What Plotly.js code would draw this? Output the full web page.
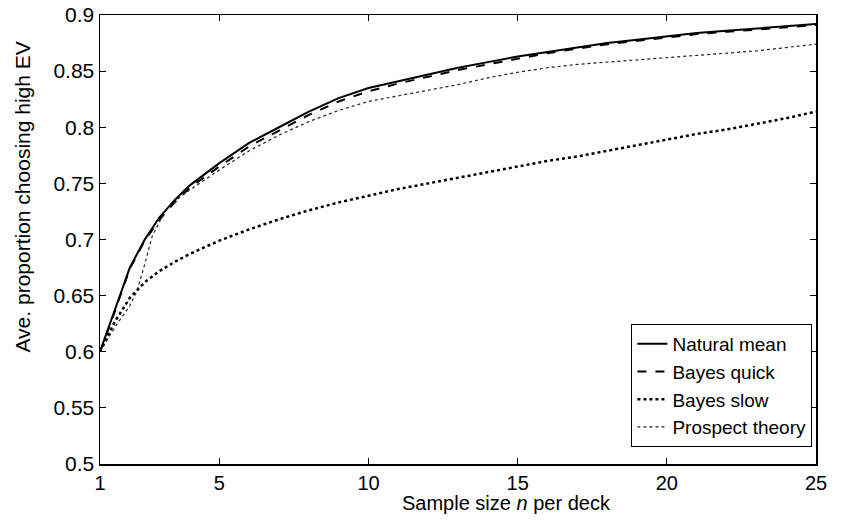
<!DOCTYPE html>
<html>
<head>
<meta charset="utf-8">
<script src="https://cdn.plot.ly/plotly-3.0.1.min.js"></script>
<style>html,body{margin:0;padding:0;background:#fff;}#chart{width:842px;height:520px;}</style>
</head>
<body>
<div id="chart"></div>
<script>
// Sample size n per deck
const nFine = [1, 1.5, 2, 2.25, 2.5, 2.75, 3, 3.25, 3.5, 4, 5, 6, 7, 8, 9, 10, 11, 12, 13, 14, 15, 16, 17, 18, 19, 20, 21, 22, 23, 24, 25];
const nInt = [1, 1.5, 2, 2.5, 3, 3.5, 4, 5, 6, 7, 8, 9, 10, 11, 12, 13, 14, 15, 16, 17, 18, 19, 20, 21, 22, 23, 24, 25];

const naturalMean = [0.600, 0.637, 0.675, 0.700, 0.720, 0.735, 0.748, 0.768, 0.786, 0.800, 0.814, 0.826, 0.835, 0.841, 0.847, 0.853, 0.858, 0.863, 0.867, 0.871, 0.875, 0.878, 0.881, 0.884, 0.886, 0.888, 0.890, 0.892];
const bayesQuick  = [0.600, 0.636, 0.674, 0.699, 0.718, 0.733, 0.746, 0.765, 0.783, 0.797, 0.811, 0.823, 0.832, 0.839, 0.845, 0.851, 0.856, 0.861, 0.866, 0.870, 0.874, 0.877, 0.880, 0.883, 0.885, 0.887, 0.889, 0.891];
const bayesSlow   = [0.600, 0.627, 0.648, 0.662, 0.672, 0.680, 0.687, 0.699, 0.709, 0.718, 0.726, 0.733, 0.739, 0.745, 0.750, 0.755, 0.760, 0.765, 0.770, 0.774, 0.779, 0.784, 0.789, 0.794, 0.798, 0.803, 0.808, 0.814];
const prospect    = [0.600, 0.622, 0.641, 0.655, 0.678, 0.703, 0.716, 0.728, 0.734, 0.744, 0.762, 0.779, 0.793, 0.805, 0.815, 0.823, 0.828, 0.833, 0.838, 0.844, 0.849, 0.853, 0.856, 0.858, 0.860, 0.862, 0.864, 0.866, 0.868, 0.871, 0.874];

const xTicks = [1, 5, 10, 15, 20, 25];
const yTicks = [0.5, 0.55, 0.6, 0.65, 0.7, 0.75, 0.8, 0.85, 0.9];
const yTickText = ["0.5", "0.55", "0.6", "0.65", "0.7", "0.75", "0.8", "0.85", "0.9"];
const seriesNames = ["Natural mean", "Bayes quick", "Bayes slow", "Prospect theory"];
const xTitle = 'Sample size <i>n</i> per deck';
const yTitle = 'Ave. proportion choosing high EV';

const traces = [
  {x: nInt, y: naturalMean, name: seriesNames[0], mode: 'lines', line: {color: '#000', width: 2, dash: 'solid'}},
  {x: nInt, y: bayesQuick, name: seriesNames[1], mode: 'lines', line: {color: '#000', width: 2, dash: 'dash'}},
  {x: nInt, y: bayesSlow, name: seriesNames[2], mode: 'lines', line: {color: '#000', width: 2.5, dash: 'dot'}},
  {x: nFine, y: prospect, name: seriesNames[3], mode: 'lines', line: {color: '#222', width: 1.2, dash: 'dot'}}
];

const fontFam = '"Liberation Sans", Arial, Helvetica, sans-serif';
const layout = {
  width: 842, height: 520,
  margin: {l: 100, r: 26, t: 15, b: 56},
  paper_bgcolor: '#fff', plot_bgcolor: '#fff',
  font: {family: fontFam, size: 21, color: '#000'},
  showlegend: true,
  legend: {x: 0.995, y: 0.175, xanchor: 'right', yanchor: 'middle', bgcolor: '#fff', bordercolor: '#000', borderwidth: 1,
           font: {family: fontFam, size: 19, color: '#000'}, tracegroupgap: 0, itemwidth: 30},
  xaxis: {
    range: [1, 25], tickvals: xTicks, ticktext: xTicks.map(String),
    ticks: 'inside', ticklen: 6, tickcolor: '#000', showline: true, linecolor: '#000', linewidth: 1.5,
    mirror: 'ticks', showgrid: false, zeroline: false, tickfont: {size: 20}
  },
  yaxis: {
    range: [0.5, 0.9], tickvals: yTicks, ticktext: yTickText,
    ticks: 'inside', ticklen: 6, tickcolor: '#000', showline: true, linecolor: '#000', linewidth: 1.5,
    mirror: 'ticks', showgrid: false, zeroline: false, tickfont: {size: 21}
  },
  annotations: [
    {text: xTitle, xref: 'paper', yref: 'paper', x: 0.568, y: -0.086, xanchor: 'center', yanchor: 'middle',
     showarrow: false, font: {family: fontFam, size: 20, color: '#000'}},
    {text: yTitle, xref: 'paper', yref: 'paper', x: -0.108, y: 0.595, xanchor: 'center', yanchor: 'middle',
     textangle: -90, showarrow: false, font: {family: fontFam, size: 21, color: '#000'}}
  ]
};

Plotly.newPlot('chart', traces, layout, {displayModeBar: false, staticPlot: true});
</script>
</body>
</html>
